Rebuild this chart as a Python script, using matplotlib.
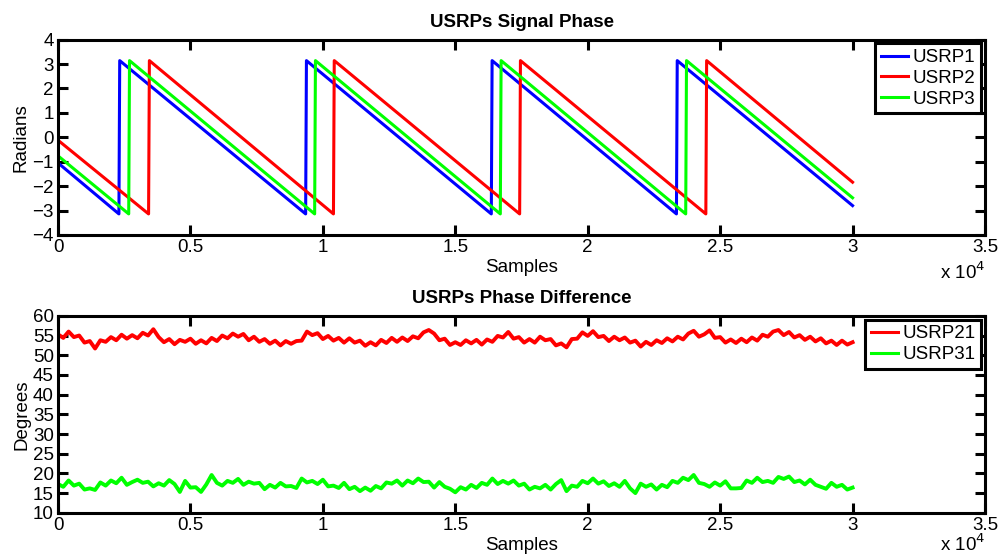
import numpy as np
import matplotlib
matplotlib.use('Agg')
import matplotlib.pyplot as plt

plt.rcParams['font.family'] = ['Liberation Sans', 'DejaVu Sans']

# --- top panel: wrapped phase (radians), vertices ---
usrp1_x = [0, 2300, 2330, 9350, 9380, 16360, 16390, 23350, 23380, 30000]
usrp1_y = [-1.05, -3.14, 3.14, -3.14, 3.14, -3.14, 3.14, -3.14, 3.14, -2.80]
usrp2_x = [0, 3420, 3450, 10400, 10430, 17430, 17460, 24460, 24490, 30000]
usrp2_y = [-0.12, -3.14, 3.14, -3.14, 3.14, -3.14, 3.14, -3.14, 3.14, -1.84]
usrp3_x = [0, 2670, 2700, 9690, 9720, 16700, 16730, 23700, 23730, 30000]
usrp3_y = [-0.76, -3.14, 3.14, -3.14, 3.14, -3.14, 3.14, -3.14, 3.14, -2.48]

# --- bottom panel: phase difference (degrees), one value every 200 samples ---
diff_x = np.arange(0, 30001, 200)
usrp21 = [
    55.3, 54.4, 56.0, 54.6, 55.0, 53.2, 53.6, 51.7, 53.8, 53.4,
    54.6, 53.8, 55.2, 54.2, 55.1, 54.3, 55.7, 55.0, 56.6, 54.6,
    53.3, 54.1, 52.8, 53.9, 53.4, 54.2, 52.9, 53.8, 53.0, 54.4,
    53.6, 55.0, 54.3, 55.5, 54.7, 55.4, 53.8, 54.7, 53.4, 54.1,
    52.9, 53.7, 52.5, 53.6, 52.9, 53.6, 53.7, 56.0, 55.1, 55.6,
    54.1, 54.9, 53.7, 54.4, 53.2, 54.3, 53.2, 53.7, 52.4, 53.3,
    52.5, 53.9, 53.1, 54.4, 53.4, 54.5, 53.6, 54.8, 54.3, 55.8,
    56.4, 55.5, 53.8, 54.2, 52.6, 53.3, 52.6, 53.8, 53.0, 53.9,
    52.7, 54.0, 53.4, 54.9, 54.5, 55.9, 54.2, 54.6, 53.2, 54.1,
    53.2, 54.7, 53.8, 54.1, 52.5, 53.0, 52.0, 54.1, 54.2, 55.8,
    54.9, 56.1, 54.6, 54.9, 53.6, 54.7, 53.8, 54.5, 53.2, 53.7,
    52.2, 53.4, 52.6, 53.8, 53.1, 54.3, 53.5, 54.7, 54.0, 55.5,
    56.2, 54.7, 55.3, 56.3, 54.4, 54.6, 53.2, 54.0, 53.1, 54.2,
    53.3, 54.5, 53.7, 55.2, 54.7, 56.0, 56.4, 55.1, 55.9, 54.5,
    55.1, 53.9, 54.7, 53.5, 54.3, 53.0, 53.7, 52.6, 53.7, 52.7,
    53.3,
]
usrp31 = [
    17.3, 16.6, 18.2, 16.9, 17.4, 15.9, 16.2, 15.8, 17.7, 16.9,
    18.2, 17.5, 18.9, 17.1, 17.8, 18.4, 17.6, 17.9, 16.7, 17.5,
    16.9, 18.3, 17.3, 15.3, 18.1, 16.4, 16.5, 15.3, 17.2, 19.6,
    17.6, 16.9, 18.1, 17.6, 18.6, 17.1, 17.9, 17.4, 17.6, 16.0,
    17.1, 16.4, 17.6, 16.7, 16.8, 16.3, 18.7, 17.7, 18.1, 17.3,
    18.4, 16.7, 16.9, 16.3, 17.6, 16.0, 16.6, 15.5, 16.4, 15.6,
    16.8, 16.2, 17.7, 17.4, 18.2, 16.9, 18.2, 17.5, 18.7, 17.8,
    17.9, 16.4, 17.8, 16.6, 16.1, 15.2, 16.5, 15.9, 17.1, 16.3,
    17.6, 17.1, 18.7, 17.3, 18.1, 17.4, 18.2, 16.9, 17.4, 15.9,
    16.6, 16.2, 17.1, 15.9, 17.3, 18.3, 15.5, 16.9, 16.6, 18.1,
    17.5, 18.7, 17.4, 18.0, 16.8, 17.5, 16.6, 18.1, 16.2, 15.0,
    17.4, 16.6, 17.2, 15.9, 17.1, 16.5, 18.1, 17.6, 18.9, 18.3,
    19.6, 17.6, 17.3, 16.6, 17.7, 16.9, 18.0, 16.2, 16.2, 16.3,
    18.2, 17.6, 18.9, 17.8, 18.1, 17.6, 19.1, 18.6, 19.2, 17.8,
    18.2, 17.2, 18.4, 17.1, 16.6, 16.1, 17.6, 16.6, 17.1, 15.9,
    16.4,
]

xticks = [0, 5000, 10000, 15000, 20000, 25000, 30000, 35000]
xtick_labels = ['0', '0.5', '1', '1.5', '2', '2.5', '3', '3.5']

BLUE, RED, GREEN = '#0000ff', '#ff0000', '#00ff00'
FS = 13.5

fig = plt.figure(figsize=(10, 5.58), dpi=100)
ax1 = fig.add_axes([0.058, 0.579, 0.927, 0.350])
ax2 = fig.add_axes([0.058, 0.081, 0.927, 0.353])


def style(ax, title, ylabel, yticks, exp_offset):
    ax.set_xlim(0, 35000)
    ax.set_xticks(xticks)
    ax.set_xticklabels(xtick_labels)
    ax.set_yticks(yticks)
    ax.set_yticklabels([f'{t:g}'.replace('-', '\u2212') for t in yticks])
    ax.tick_params(direction='in', length=7, width=2.2, top=True, right=True,
                   labelsize=FS, pad=3)
    for sp in ax.spines.values():
        sp.set_linewidth(2.2)
    ax.set_title(title, fontsize=FS, fontweight='bold', pad=9)
    ax.set_xlabel('Samples', fontsize=FS, labelpad=2)
    ax.set_ylabel(ylabel, fontsize=FS, labelpad=2)
    # shared power-of-ten marker, as MATLAB puts it under the x axis
    ax.annotate(r'x 10$^4$', xy=(1.0, 0.0), xycoords='axes fraction',
                xytext=(0, exp_offset), textcoords='offset points', ha='right',
                va='baseline', fontsize=FS, annotation_clip=False)


ax1.plot(usrp1_x, usrp1_y, color=BLUE, lw=2.2, label='USRP1')
ax1.plot(usrp2_x, usrp2_y, color=RED, lw=2.2, label='USRP2')
ax1.plot(usrp3_x, usrp3_y, color=GREEN, lw=2.2, label='USRP3')
ax1.set_ylim(-4, 4)
style(ax1, 'USRPs Signal Phase', 'Radians', list(range(-4, 5)), -31.5)

ax2.plot(diff_x, usrp21, color=RED, lw=2.8, label='USRP21')
ax2.plot(diff_x, usrp31, color=GREEN, lw=2.8, label='USRP31')
ax2.set_ylim(10, 60)
style(ax2, 'USRPs Phase Difference', 'Degrees', list(range(10, 61, 5)), -27.5)

for ax in (ax1, ax2):
    leg = ax.legend(loc='upper right', fontsize=FS, handlelength=1.45,
                    handletextpad=0.25, borderpad=0.3, labelspacing=0.2,
                    borderaxespad=0.2, fancybox=False, framealpha=1)
    leg.get_frame().set_edgecolor('black')
    leg.get_frame().set_linewidth(2.2)
    for line in leg.get_lines():
        line.set_linewidth(2.2)

fig.savefig('out.png', dpi=100)
